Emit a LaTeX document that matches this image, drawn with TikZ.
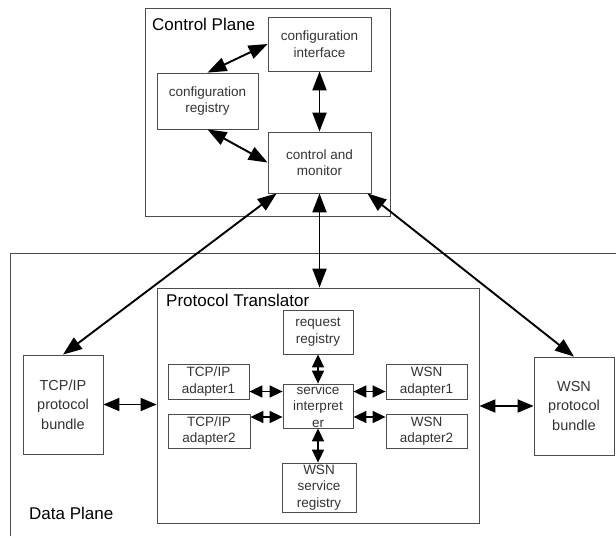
\documentclass[tikz,border=0pt]{standalone}
\usepackage{fontspec}
\setmainfont{Liberation Sans}
\usetikzlibrary{arrows.meta}
\begin{document}
\begin{tikzpicture}[x=1pt,y=-1pt,
  frame/.style={draw=black!70, line width=0.8pt},
  box/.style={draw=black!70, line width=0.8pt, inner sep=0pt},
  txt/.style={text=black!80, align=center, inner sep=0pt, font=\fontsize{13.5}{16.5}\selectfont},
  bigtxt/.style={text=black!80, align=center, inner sep=0pt, font=\fontsize{14.5}{19.5}\selectfont},
  title/.style={text=black, anchor=base west, inner sep=0pt, font=\fontsize{17}{20}\selectfont},
  bigarrow/.style={line width=1.9pt, {Triangle[length=19pt,width=14pt]}-{Triangle[length=19pt,width=14pt]}},
  midarrow/.style={line width=1.9pt, {Triangle[length=16pt,width=13pt]}-{Triangle[length=16pt,width=13pt]}},
  smallarrow/.style={line width=1.6pt, {Triangle[length=13pt,width=12pt]}-{Triangle[length=13pt,width=12pt]}}]
\useasboundingbox (0,0) rectangle (616,536);

% Control plane
\node[frame, minimum width=245pt, minimum height=208pt] (cp) at (267.5,112) {};
\node[title] (cptitle) at (152,30) {Control Plane};
\node[box, minimum width=103pt, minimum height=54pt] (cfgif) at (319.5,44) {};
\node[txt] at (cfgif) {configuration\\interface};
\node[box, minimum width=101pt, minimum height=56pt] (cfgreg) at (207.5,101) {};
\node[txt] at (cfgreg) {configuration\\registry};
\node[box, minimum width=103pt, minimum height=61pt] (ctrl) at (319.5,162.5) {};
\node[txt] at (ctrl) {control and\\monitor};

% Data plane (frame runs past the right and bottom edges)
\draw[frame] (10,536) -- (10,253) -- (616,253);
\node[title] (dptitle) at (29,519) {Data Plane};
\node[box, minimum width=80pt, minimum height=99pt] (tcpb) at (63,404.5) {};
\node[bigtxt] at (tcpb) {TCP/IP\\protocol\\bundle};
\node[box, minimum width=80pt, minimum height=98pt] (wsnb) at (574,406) {};
\node[bigtxt] at (wsnb) {WSN\\protocol\\bundle};

% Protocol translator
\node[frame, minimum width=322pt, minimum height=235pt] (pt) at (318,405.5) {};
\node[title] (pttitle) at (166,306) {Protocol Translator};
\node[box, minimum width=70pt, minimum height=44pt] (reqreg) at (318,332) {};
\node[txt] at (reqreg) {request\\registry};
\node[box, minimum width=70pt, minimum height=44pt] (interp) at (318,406) {};
\node[txt] at (interp) {service\\interpret\\er};
\node[box, minimum width=74pt, minimum height=49pt] (wsnreg) at (319,487.5) {};
\node[txt] at (wsnreg) {WSN\\service\\registry};
\node[box, minimum width=81pt, minimum height=35pt] (tcpa1) at (208.5,381.5) {};
\node[txt] at (tcpa1) {TCP/IP\\adapter1};
\node[box, minimum width=82pt, minimum height=34pt] (tcpa2) at (209,431) {};
\node[txt] at (tcpa2) {TCP/IP\\adapter2};
\node[box, minimum width=81pt, minimum height=35pt] (wsna1) at (426.5,381.5) {};
\node[txt] at (wsna1) {WSN\\adapter1};
\node[box, minimum width=81pt, minimum height=34pt] (wsna2) at (426.5,431) {};
\node[txt] at (wsna2) {WSN\\adapter2};

% Control plane links
\draw[bigarrow] (cfgreg.north) -- (cfgif.west);
\draw[bigarrow] (cfgif.south) -- (ctrl.north);
\draw[bigarrow] (cfgreg.south) -- (ctrl.west);

% Control plane to data plane
\draw[bigarrow] ([xshift=9pt]ctrl.south west) -- (tcpb.north);
\draw[bigarrow] (ctrl.south) -- (ctrl.south |- pt.north);
\draw[bigarrow] ([xshift=-4pt]ctrl.south east) -- (wsnb.north);

% Bundles to translator
\draw[midarrow] (tcpb.east) -- (tcpb.east -| pt.west);
\draw[midarrow] (wsnb.west -| pt.east) -- (wsnb.west);

% Inside the translator
\draw[smallarrow] (reqreg.south) -- (interp.north);
\draw[smallarrow] (interp.south) -- (interp.south |- wsnreg.north);
\draw[smallarrow] ([yshift=-10pt]tcpa1.east) -- ([yshift=-10pt]tcpa1.east -| interp.west);
\draw[smallarrow] ([yshift=14pt]tcpa2.east) -- ([yshift=14pt]tcpa2.east -| interp.west);
\draw[smallarrow] ([yshift=-10pt]wsna1.west -| interp.east) -- ([yshift=-10pt]wsna1.west);
\draw[smallarrow] ([yshift=14pt]wsna2.west -| interp.east) -- ([yshift=14pt]wsna2.west);
\end{tikzpicture}
\end{document}
